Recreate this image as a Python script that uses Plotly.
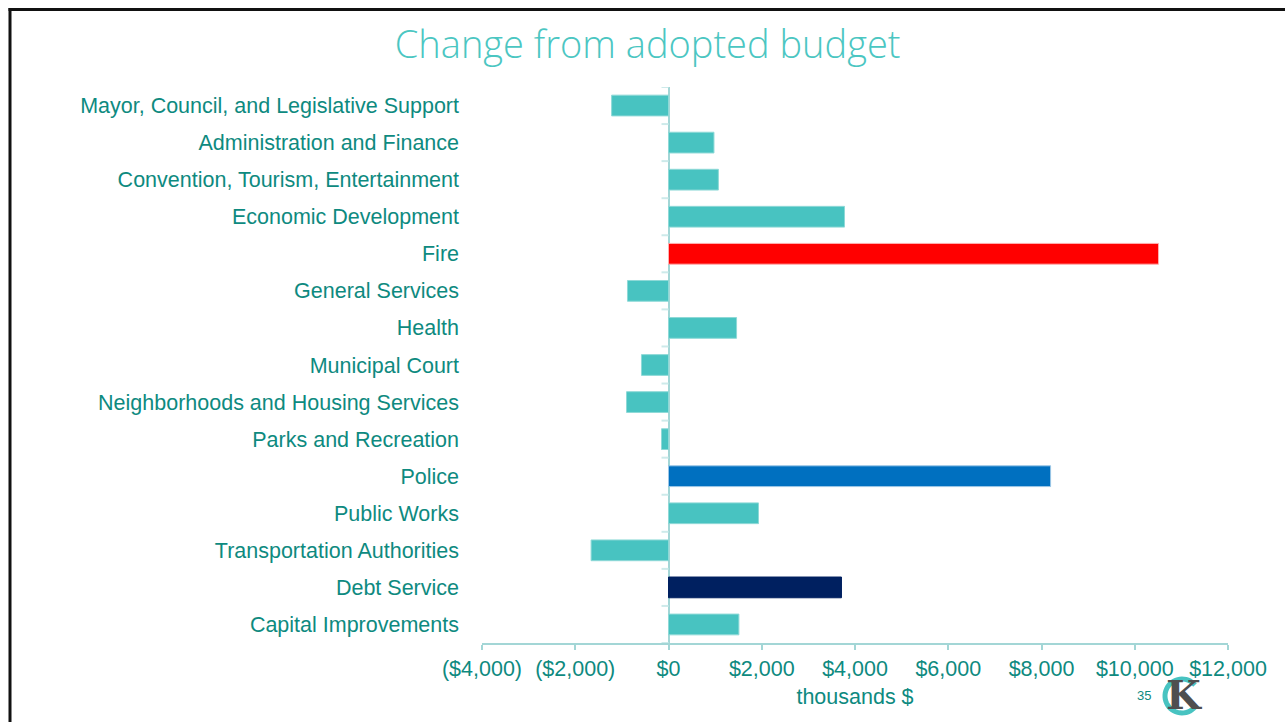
import numpy as np
import plotly.graph_objects as go

# Departments, top to bottom
categories = [
    "Mayor, Council, and Legislative Support",
    "Administration and Finance",
    "Convention, Tourism, Entertainment",
    "Economic Development",
    "Fire",
    "General Services",
    "Health",
    "Municipal Court",
    "Neighborhoods and Housing Services",
    "Parks and Recreation",
    "Police",
    "Public Works",
    "Transportation Authorities",
    "Debt Service",
    "Capital Improvements",
]

# Change from adopted budget, thousands of dollars
change = [-1220, 975, 1070, 3775, 10510, -880, 1460, -580, -900, -150,
          8195, 1930, -1660, 3710, 1510]

bar_colors = ["#48C3C1"] * len(categories)
bar_colors[categories.index("Fire")] = "#FF0000"
bar_colors[categories.index("Police")] = "#0070C0"
bar_colors[categories.index("Debt Service")] = "#002060"

edge_colors = ["#8ED9D7"] * len(categories)
edge_colors[categories.index("Fire")] = "#FFB0B0"
edge_colors[categories.index("Police")] = "#9CC6E6"
edge_colors[categories.index("Debt Service")] = "#002060"

x_tickvals = [-4000, -2000, 0, 2000, 4000, 6000, 8000, 10000, 12000]
x_ticktext = ["($4,000)", "($2,000)", "$0", "$2,000", "$4,000", "$6,000",
              "$8,000", "$10,000", "$12,000"]

W, H = 1285, 722
ML, MR, MT, MB = 482, 57, 87, 79
PW, PH = W - ML - MR, H - MT - MB

LABEL = "#0E8A7F"
AXIS = "#A3D6D6"
TICK = "#CDEAEA"
FONT = "Liberation Sans, Arial"
FS = 21.5


def px_x(p):
    return (p - ML) / PW


def px_y(p):
    return (H - MB - p) / PH


fig = go.Figure(
    go.Bar(
        x=change,
        y=categories,
        orientation="h",
        width=0.56,
        marker=dict(color=bar_colors, line=dict(color=edge_colors, width=1)),
        hoverinfo="x+y",
    )
)

shapes = []
# small ticks on the zero axis between categories
for i in range(len(categories) + 1):
    shapes.append(dict(
        type="line", xref="x", yref="y", xsizemode="pixel", xanchor=0,
        x0=-7, x1=0, y0=i - 0.5, y1=i - 0.5,
        line=dict(color=TICK, width=2),
    ))
# slide frame (left and top edges)
shapes.append(dict(type="line", xref="paper", yref="paper",
                   x0=px_x(10), x1=px_x(10), y0=px_y(8), y1=px_y(H + 2),
                   line=dict(color="#111111", width=3)))
shapes.append(dict(type="line", xref="paper", yref="paper",
                   x0=px_x(8.5), x1=px_x(W + 2), y0=px_y(9.5), y1=px_y(9.5),
                   line=dict(color="#111111", width=3)))

# city logo: teal "C" ring drawn as an open arc, grey "K" letter on top
cx, cy, rad = 1182, 696, 17
ang = np.radians(np.linspace(40, 320, 40))
arc = " L ".join(f"{px_x(cx + rad * np.cos(a)):.5f},{px_y(cy - rad * np.sin(a)):.5f}"
                 for a in ang)
shapes.append(dict(type="path", xref="paper", yref="paper", path="M " + arc,
                   line=dict(color="#48C3C1", width=5)))

annotations = [
    dict(text="35", x=px_x(1144), y=px_y(695), xref="paper", yref="paper",
         xanchor="center", yanchor="middle", showarrow=False,
         font=dict(family=FONT, size=13, color=LABEL)),
    dict(text="K", x=px_x(1184), y=px_y(694), xref="paper", yref="paper",
         xanchor="center", yanchor="middle", showarrow=False,
         font=dict(family="DejaVu Serif", size=40, color="#4F4F4F", weight="bold")),
]

fig.update_layout(
    width=W, height=H,
    margin=dict(l=ML, r=MR, t=MT, b=MB, pad=0),
    paper_bgcolor="white", plot_bgcolor="white",
    showlegend=False,
    bargap=0.44,
    title=dict(text="Change from adopted budget", x=0.504, xanchor="center",
               y=1 - 45 / H, yanchor="middle",
               font=dict(family="Open Sans", size=38, color="#4BC6C2", weight=300)),
    xaxis=dict(
        range=[-4000, 12000], tickvals=x_tickvals, ticktext=x_ticktext,
        showgrid=False, zeroline=True, zerolinecolor=AXIS, zerolinewidth=1.5,
        showline=True, linecolor=AXIS, linewidth=1.5,
        ticks="outside", ticklen=5, tickcolor=AXIS, tickwidth=1.5,
        tickfont=dict(family=FONT, size=FS, color=LABEL),
        title=dict(text="thousands $", standoff=9,
                   font=dict(family=FONT, size=FS, color=LABEL)),
        fixedrange=True,
    ),
    yaxis=dict(
        type="category", categoryorder="array", categoryarray=categories,
        range=[len(categories) - 0.5, -0.5],
        showgrid=False, showline=False, ticks="", zeroline=False,
        ticklabelstandoff=22,
        tickfont=dict(family=FONT, size=FS, color=LABEL),
        fixedrange=True,
    ),
    shapes=shapes,
    annotations=annotations,
)

fig.write_html("out.html")
